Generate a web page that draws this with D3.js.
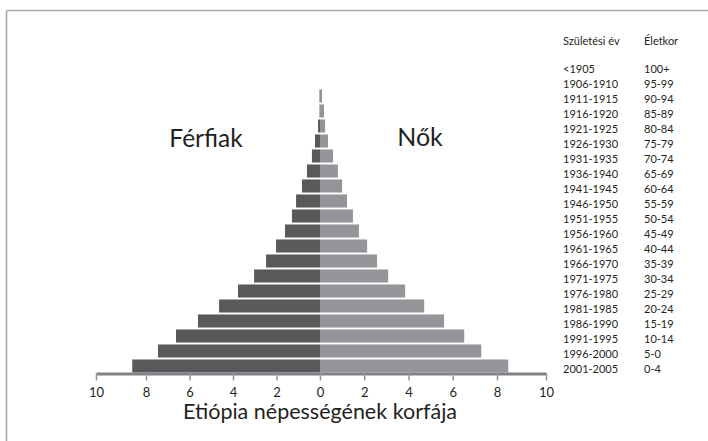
<!DOCTYPE html>
<html>
<head>
<meta charset="utf-8">
<script src="https://cdn.jsdelivr.net/npm/d3@7"></script>
<style>
  body { margin: 0; background: #fff; }
  text { font-family: Lato, "Open Sans", sans-serif; fill: #231f20; }
</style>
</head>
<body>
<div id="chart"></div>
<script>
// age groups, top to bottom
const ageGroups = ["100+", "95-99", "90-94", "85-89", "80-84", "75-79", "70-74", "65-69", "60-64", "55-59",
	"50-54", "45-49", "40-44", "35-39", "30-34", "25-29", "20-24", "15-19", "10-14", "5-0", "0-4"];
const birthYears = ["<1905", "1906-1910", "1911-1915", "1916-1920", "1921-1925", "1926-1930", "1931-1935",
	"1936-1940", "1941-1945", "1946-1950", "1951-1955", "1956-1960", "1961-1965", "1966-1970", "1971-1975",
	"1976-1980", "1981-1985", "1986-1990", "1991-1995", "1996-2000", "2001-2005"];
// percent of population
const male = [0, 0, 0.02, 0.02, 0.09, 0.23, 0.37, 0.6, 0.83, 1.1,
	1.29, 1.61, 2.02, 2.48, 3.03, 3.77, 4.64, 5.61, 6.62, 7.45, 8.55];
const female = [0, 0, 0.09, 0.18, 0.23, 0.36, 0.59, 0.81, 1.0, 1.22,
	1.49, 1.76, 2.13, 2.58, 3.08, 3.85, 4.71, 5.61, 6.52, 7.29, 8.46];
const tickValues = [-10, -8, -6, -4, -2, 0, 2, 4, 6, 8, 10];

const width = 708,
	height = 441;

const svg = d3.select("#chart").append("svg")
	.attr("width", width)
	.attr("height", height);

// frame (top + left only)
svg.append("line")
	.attr("x1", 6.5).attr("y1", 10.5).attr("x2", width).attr("y2", 10.5)
	.attr("stroke", "#a7a9ac").attr("stroke-width", 1.6);
svg.append("line")
	.attr("x1", 6.5).attr("y1", 10.5).attr("x2", 6.5).attr("y2", height)
	.attr("stroke", "#a7a9ac").attr("stroke-width", 1.6);

//Set up scales
const x = d3.scaleLinear()
	.domain([-10, -8, 0, 8, 10])
	.range([96, 146, 320, 497, 546]);
const y = d3.scaleBand()
	.domain(ageGroups)
	.range([58.5, 373.5])
	.paddingInner(0.13)
	.paddingOuter(0.065);

const rows = ageGroups.map((a, i) => ({age: a, year: birthYears[i], m: male[i], f: female[i]}));

// male bars
svg.selectAll("rect.male")
	.data(rows)
	.enter()
	.append("rect")
	.attr("class", "male")
	.attr("x", d => x(-d.m))
	.attr("y", d => y(d.age))
	.attr("width", d => x(0) - x(-d.m))
	.attr("height", y.bandwidth())
	.attr("fill", "#58595b");

// female bars
svg.selectAll("rect.female")
	.data(rows)
	.enter()
	.append("rect")
	.attr("class", "female")
	.attr("x", x(0))
	.attr("y", d => y(d.age))
	.attr("width", d => x(d.f) - x(0))
	.attr("height", y.bandwidth())
	.attr("fill", "#939598");

// axis
const axis = svg.append("g")
	.attr("transform", "translate(0,373.5)")
	.call(d3.axisBottom(x)
		.tickValues(tickValues)
		.tickSizeInner(7)
		.tickSizeOuter(0)
		.tickFormat(d => Math.abs(d)));
axis.select(".domain")
	.attr("stroke", "#808285")
	.attr("stroke-width", 3);
axis.selectAll(".tick line")
	.attr("stroke", "#939598")
	.attr("stroke-width", 1.5);
axis.selectAll(".tick text")
	.attr("y", 23)
	.attr("dy", 0)
	.attr("font-size", 13)
	.style("font-family", "Lato, sans-serif");

// side labels
svg.append("text")
	.attr("x", 206).attr("y", 147)
	.attr("text-anchor", "middle")
	.attr("font-size", 24.5)
	.text("Férfiak");
svg.append("text")
	.attr("x", 420).attr("y", 146)
	.attr("text-anchor", "middle")
	.attr("font-size", 25)
	.text("Nők");

// title
svg.append("text")
	.attr("x", 320).attr("y", 419)
	.attr("text-anchor", "middle")
	.attr("font-size", 21.5)
	.text("Etiópia népességének korfája");

// right hand table
svg.append("text")
	.attr("x", 563).attr("y", 45)
	.attr("font-size", 11)
	.text("Születési év");
svg.append("text")
	.attr("x", 644).attr("y", 45)
	.attr("font-size", 11)
	.text("Életkor");

svg.selectAll("text.year")
	.data(rows)
	.enter()
	.append("text")
	.attr("class", "year")
	.attr("x", 563)
	.attr("y", d => y(d.age) + y.bandwidth() / 2 + 7)
	.attr("font-size", 11)
	.text(d => d.year);

svg.selectAll("text.age")
	.data(rows)
	.enter()
	.append("text")
	.attr("class", "age")
	.attr("x", 644)
	.attr("y", d => y(d.age) + y.bandwidth() / 2 + 7)
	.attr("font-size", 11)
	.text(d => d.age);
</script>
</body>
</html>
